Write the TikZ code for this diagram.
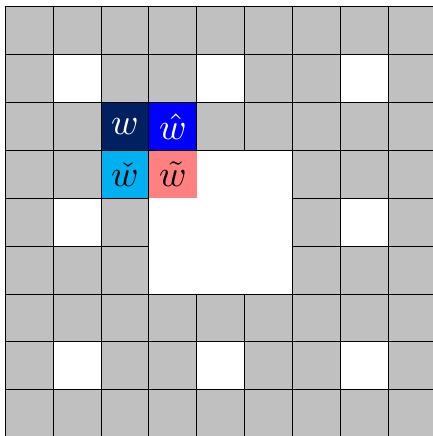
\documentclass[tikz,border=0pt]{standalone}
\definecolor{cellgray}{RGB}{192,192,192}
\definecolor{navy}{RGB}{0,32,96}
\definecolor{pureblue}{RGB}{0,0,255}
\definecolor{skycyan}{RGB}{0,176,240}
\definecolor{salmon}{RGB}{255,128,128}
\begin{document}
\begin{tikzpicture}[
  gridline/.style={line width=0.6pt, black},
  lbl/.style={inner sep=0pt, scale=2.2, transform shape},
]
\useasboundingbox (-0.111,0.034) rectangle (8.938,9.146);
% background
\fill[cellgray] (0,0) rectangle (9,9);
% white cells
\foreach \x/\y in {1/7,4/7,7/7,1/4,7/4,1/1,4/1,7/1}
  \fill[white] (\x,\y) rectangle ++(1,1);
% coloured cells
\fill[navy] (2,6) rectangle (3,7);
\fill[pureblue] (3,6) rectangle (4,7);
\fill[skycyan] (2,5) rectangle (3,6);
% grid
\draw[gridline] (0,0) grid (9,9);
% big white block
\fill[white] (3,3) rectangle (6,6);
\fill[salmon] (3,5) rectangle (4,6);
\draw[gridline] (3,3) rectangle (6,6);
% labels
\node[lbl, text=white] (w) at (2.5,6.5) {$w$};
\node[lbl, text=white] (wh) at (3.5,6.5) {$\hat{w}$};
\node[lbl, text=black] (wc) at (2.5,5.5) {$\check{w}$};
\node[lbl, text=black] (wt) at (3.5,5.5) {$\tilde{w}$};
\end{tikzpicture}
\end{document}
